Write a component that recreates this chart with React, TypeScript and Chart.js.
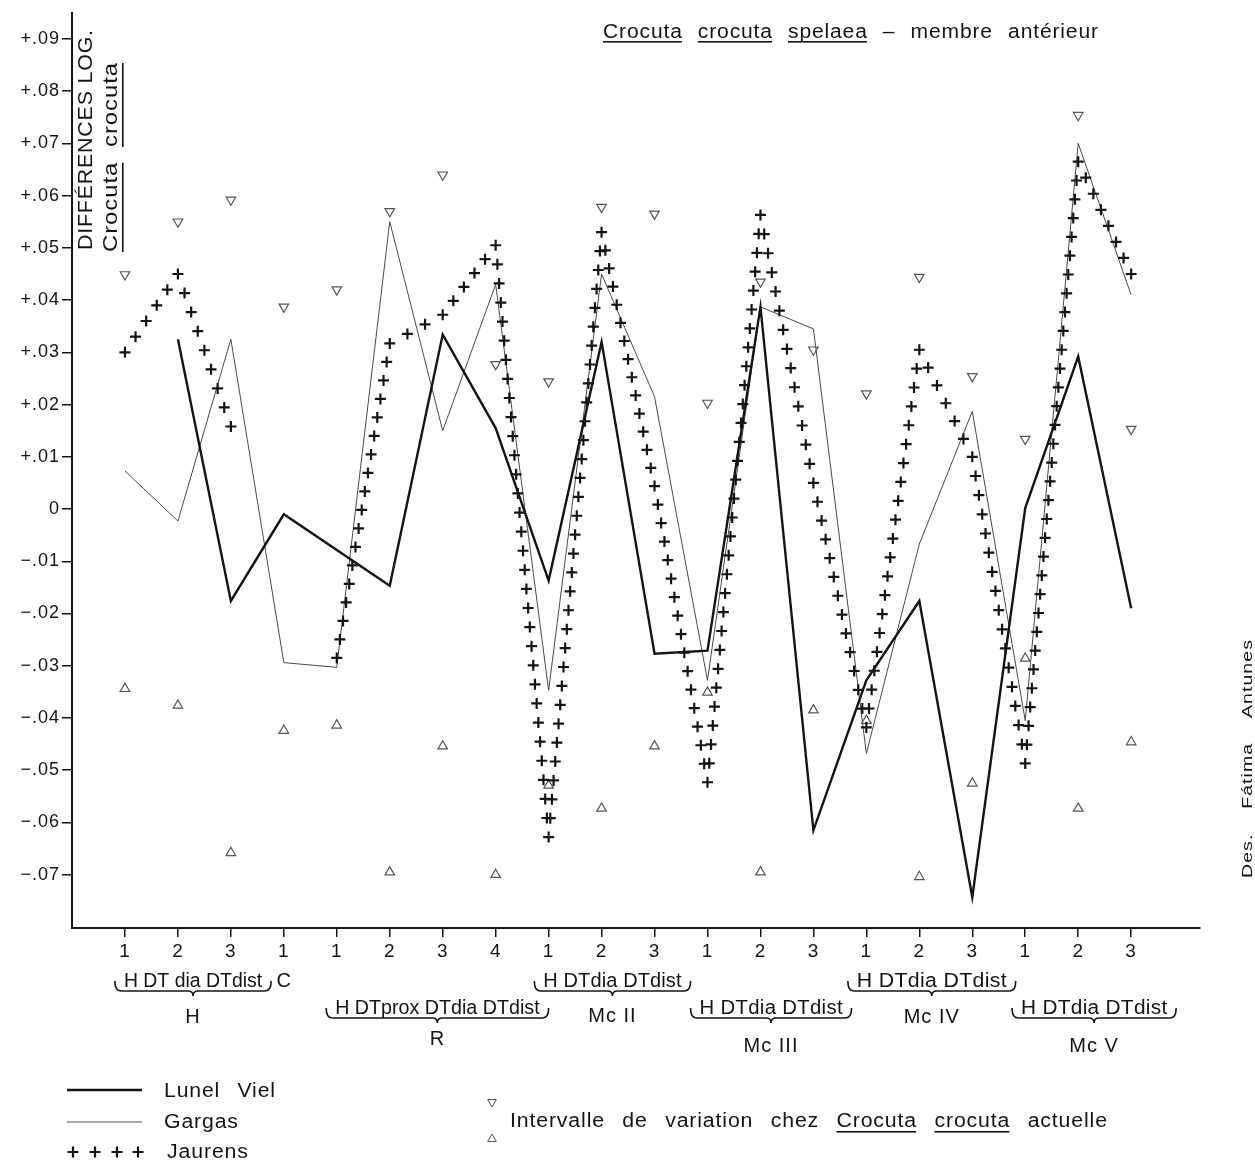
import React, { useEffect, useRef } from 'react';
import { Chart, registerables } from 'chart.js';

Chart.register(...registerables);

// ---------------- data ----------------
const categoryLabels = ['1', '2', '3', '1', '1', '2', '3', '4', '1', '2', '3', '1', '2', '3', '1', '2', '3', '1', '2', '3'];
const yTickValues = [0.09, 0.08, 0.07, 0.06, 0.05, 0.04, 0.03, 0.02, 0.01, 0, -0.01, -0.02, -0.03, -0.04, -0.05, -0.06, -0.07];
const yTickLabels = ['+.09', '+.08', '+.07', '+.06', '+.05', '+.04', '+.03', '+.02', '+.01', '0', '−.01', '−.02', '−.03', '−.04', '−.05', '−.06', '−.07'];

const lunelViel = [null, 0.0325, -0.0176, -0.001, null, -0.0147, 0.0334, 0.0155, -0.0137, 0.032, -0.0277, -0.0271, 0.0387, -0.0615, -0.0328, -0.0176, -0.0743, 0.0002, 0.0292, -0.019];
const gargas = [0.0073, -0.0023, 0.0325, -0.0294, -0.0303, 0.055, 0.015, 0.043, -0.0347, 0.045, 0.0215, -0.0328, 0.0387, 0.0345, -0.0468, -0.0067, 0.0187, -0.0405, 0.07, 0.041];
const jaurens = [0.03, 0.045, 0.0158, null, -0.0285, 0.0317, 0.0372, 0.0505, -0.0628, 0.053, 0.0044, -0.0523, 0.0563, 0.005, -0.0418, 0.0305, 0.01, -0.0487, 0.0665, 0.045];
const actuelleMax = [0.0449, 0.055, 0.0592, 0.0387, 0.042, 0.057, 0.064, 0.0277, 0.0244, 0.0578, 0.0565, 0.0203, 0.0435, 0.0305, 0.0221, 0.0444, 0.0254, 0.0134, 0.0754, 0.0153];
const actuelleMin = [-0.0344, -0.0376, -0.0658, -0.0424, -0.0414, -0.0695, -0.0454, -0.07, -0.0529, -0.0573, -0.0454, -0.0351, -0.0695, -0.0385, -0.0405, -0.0704, -0.0525, -0.0286, -0.0573, -0.0446];

const seriesNames = ['Lunel Viel', 'Gargas', 'Jaurens'];
const groupTexts = ['H DT dia DTdist', 'H DTprox DTdia DTdist', 'H DTdia DTdist', 'H DTdia DTdist', 'H DTdia DTdist', 'H DTdia DTdist'];
const groupNames = ['H', 'R', 'Mc II', 'Mc III', 'Mc IV', 'Mc V'];
const singleLabel = 'C';
const titleText = 'Crocuta crocuta spelaea – membre antérieur';
const titleUnderlined = ['Crocuta', 'crocuta', 'spelaea'];
const yTitleLine1 = 'DIFFÉRENCES LOG.';
const yTitleLine2 = 'Crocuta crocuta';
const rangeText = 'Intervalle de variation chez Crocuta crocuta actuelle';
const rangeUnderlined = ['Crocuta', 'crocuta'];
const creditText = 'Des. Fátima Antunes';

// ---------------- layout ----------------
const W = 1255;
const H = 1165;
const PLOT_BOTTOM = 928;
const FONT = '"Liberation Sans", Arial, sans-serif';
const NARROW = '"Liberation Sans Narrow", "Liberation Sans", Arial, sans-serif';
const INK = '#141414';
const groupLayout = [
  { from: -0.19, to: 2.76, row: 0, nameY: 1023 },
  { from: 3.8, to: 8.0, row: 1, nameY: 1045 },
  { from: 7.73, to: 10.68, row: 0, nameY: 1022 },
  { from: 10.68, to: 13.72, row: 1, nameY: 1052 },
  { from: 13.65, to: 16.82, row: 0, nameY: 1023 },
  { from: 16.75, to: 19.85, row: 1, nameY: 1052 },
];
const rowTextBaseline = [987, 1014];
const rowBraceY = [991, 1018];

type FitOpts = { underline?: string[]; ulOffset?: number; wordSpacing?: number; maxLs?: number; color?: string };

function fitText(ctx: CanvasRenderingContext2D, text: string, x: number, y: number, width: number, size: number, family: string, opts: FitOpts = {}) {
  const c = ctx as any;
  ctx.save();
  ctx.font = `${size}px ${family}`;
  ctx.textAlign = 'left';
  ctx.textBaseline = 'alphabetic';
  ctx.fillStyle = opts.color || INK;
  c.letterSpacing = '0px';
  c.wordSpacing = `${opts.wordSpacing || 0}px`;
  const base = ctx.measureText(text).width;
  const n = text.length;
  let ls = n > 1 ? (width - base) / (n - 1) : 0;
  ls = Math.max(0, Math.min(opts.maxLs ?? 0.8, ls));
  c.letterSpacing = `${ls}px`;
  const measured = ctx.measureText(text).width - ls;
  const sx = width / measured;
  ctx.translate(x, y);
  ctx.scale(sx, 1);
  ctx.fillText(text, 0, 0);
  if (opts.underline) {
    for (const w of opts.underline) {
      const idx = text.indexOf(w);
      if (idx < 0) continue;
      const a = idx === 0 ? 0 : ctx.measureText(text.slice(0, idx)).width;
      const b = ctx.measureText(text.slice(0, idx + w.length)).width - ls;
      ctx.fillRect(a, opts.ulOffset ?? 4, b - a, 1.6);
    }
  }
  ctx.restore();
}

function drawCross(ctx: CanvasRenderingContext2D, x: number, y: number, arm: number) {
  ctx.beginPath();
  ctx.moveTo(x - arm, y);
  ctx.lineTo(x + arm, y);
  ctx.moveTo(x, y - arm);
  ctx.lineTo(x, y + arm);
  ctx.stroke();
}

function drawBrace(ctx: CanvasRenderingContext2D, x1: number, x2: number, y: number) {
  const xm = (x1 + x2) / 2;
  ctx.beginPath();
  ctx.moveTo(x1, y - 10);
  ctx.quadraticCurveTo(x1, y, x1 + 6, y);
  ctx.lineTo(xm - 5, y);
  ctx.quadraticCurveTo(xm, y, xm, y + 5);
  ctx.quadraticCurveTo(xm, y, xm + 5, y);
  ctx.lineTo(x2 - 6, y);
  ctx.quadraticCurveTo(x2, y, x2, y - 10);
  ctx.stroke();
}

function drawTriangle(ctx: CanvasRenderingContext2D, x: number, y: number, r: number, down: boolean) {
  const s = down ? -1 : 1;
  ctx.beginPath();
  ctx.moveTo(x, y - s * r);
  ctx.lineTo(x + r * 0.866, y + s * r * 0.5);
  ctx.lineTo(x - r * 0.866, y + s * r * 0.5);
  ctx.closePath();
  ctx.stroke();
}

const annotPlugin = {
  id: 'annot',
  beforeDraw(chart: any) {
    const ctx = chart.ctx as CanvasRenderingContext2D;
    ctx.save();
    ctx.fillStyle = '#ffffff';
    ctx.fillRect(0, 0, chart.width, chart.height);
    ctx.restore();
    (ctx as any).letterSpacing = '1px';
  },
  afterDatasetsDraw(chart: any) {
    const ctx = chart.ctx as CanvasRenderingContext2D;
    const pts = chart.getDatasetMeta(2).data;
    ctx.save();
    ctx.strokeStyle = INK;
    ctx.lineWidth = 2.2;
    const spacing = 19;
    for (let i = 0; i < pts.length; i++) {
      const p = pts[i];
      if (p.skip) continue;
      const q = pts[i + 1];
      if (!q || q.skip) {
        drawCross(ctx, p.x, p.y, 5.5);
        continue;
      }
      const dx = q.x - p.x;
      const dy = q.y - p.y;
      const n = Math.max(1, Math.round(Math.hypot(dx, dy) / spacing));
      for (let k = 0; k < n; k++) drawCross(ctx, p.x + (dx * k) / n, p.y + (dy * k) / n, 5.5);
    }
    ctx.restore();
  },
  afterDraw(chart: any) {
    const ctx = chart.ctx as CanvasRenderingContext2D;
    const xs = chart.scales.x;
    const px = (v: number) => xs.getPixelForValue(v);

    // title
    fitText(ctx, titleText, 603, 38, 495, 20, FONT, { underline: titleUnderlined, ulOffset: 3, wordSpacing: 8 });

    // rotated y-axis title
    ctx.save();
    ctx.translate(92, 250);
    ctx.rotate(-Math.PI / 2);
    fitText(ctx, yTitleLine1, 0, 0, 220, 21, FONT);
    ctx.restore();
    ctx.save();
    ctx.translate(117, 252);
    ctx.rotate(-Math.PI / 2);
    fitText(ctx, yTitleLine2, 0, 0, 189, 20, FONT, { underline: ['Crocuta', 'crocuta'], ulOffset: 5, wordSpacing: 6 });
    ctx.restore();

    // group labels and braces
    ctx.save();
    ctx.strokeStyle = INK;
    ctx.lineWidth = 1.6;
    groupLayout.forEach((g, i) => {
      const x1 = px(g.from);
      const x2 = px(g.to);
      const tw = x2 - x1 - 18;
      fitText(ctx, groupTexts[i], x1 + 9, rowTextBaseline[g.row], tw, 20, NARROW, { maxLs: 0.3 });
      drawBrace(ctx, x1, x2, rowBraceY[g.row]);
      ctx.save();
      ctx.font = `20px ${NARROW}`;
      ctx.fillStyle = INK;
      ctx.textAlign = 'center';
      (ctx as any).letterSpacing = '1px';
      ctx.fillText(groupNames[i], (x1 + x2) / 2, g.nameY);
      ctx.restore();
    });
    ctx.save();
    ctx.font = `20px ${NARROW}`;
    ctx.fillStyle = INK;
    ctx.textAlign = 'center';
    (ctx as any).letterSpacing = '0px';
    ctx.fillText(singleLabel, px(3), rowTextBaseline[0]);
    ctx.restore();
    ctx.restore();

    // legend: series
    ctx.save();
    ctx.strokeStyle = INK;
    ctx.lineWidth = 2.4;
    ctx.beginPath();
    ctx.moveTo(67, 1090);
    ctx.lineTo(142, 1090);
    ctx.stroke();
    ctx.strokeStyle = '#555';
    ctx.lineWidth = 1;
    ctx.beginPath();
    ctx.moveTo(67, 1122);
    ctx.lineTo(142, 1122);
    ctx.stroke();
    ctx.strokeStyle = INK;
    ctx.lineWidth = 2.2;
    [73, 95, 117, 138].forEach((x) => drawCross(ctx, x, 1152, 5.5));
    ctx.restore();
    fitText(ctx, seriesNames[0], 164, 1097, 111, 20, FONT, { wordSpacing: 10 });
    fitText(ctx, seriesNames[1], 164, 1128, 74, 20, FONT);
    fitText(ctx, seriesNames[2], 167, 1158, 81, 20, FONT);

    // legend: range
    ctx.save();
    ctx.strokeStyle = '#555';
    ctx.lineWidth = 1;
    drawTriangle(ctx, 492, 1102, 5, true);
    drawTriangle(ctx, 492, 1139, 5, false);
    ctx.restore();
    fitText(ctx, rangeText, 510, 1127, 597, 20, FONT, { underline: rangeUnderlined, ulOffset: 4, wordSpacing: 10 });

    // credit
    ctx.save();
    ctx.translate(1252, 878);
    ctx.rotate(-Math.PI / 2);
    fitText(ctx, creditText, 0, 0, 238, 15, FONT, { wordSpacing: 14 });
    ctx.restore();
  },
};

export default function App() {
  const ref = useRef<HTMLCanvasElement | null>(null);

  useEffect(() => {
    if (!ref.current) return;
    const toXY = (arr: (number | null)[]) => arr.map((v, i) => ({ x: i, y: v }));
    const chart = new Chart(ref.current, {
      type: 'line',
      data: {
        datasets: [
          {
            label: seriesNames[0],
            data: toXY(lunelViel) as any,
            borderColor: INK,
            borderWidth: 2.4,
            pointRadius: 0,
            spanGaps: true,
            tension: 0,
            fill: false,
          },
          {
            label: seriesNames[1],
            data: toXY(gargas) as any,
            borderColor: '#4a4a4a',
            borderWidth: 1,
            pointRadius: 0,
            spanGaps: false,
            tension: 0,
            fill: false,
          },
          {
            label: seriesNames[2],
            data: toXY(jaurens) as any,
            showLine: false,
            borderColor: 'transparent',
            pointRadius: 0,
          },
          {
            label: 'max',
            data: toXY(actuelleMax) as any,
            showLine: false,
            pointStyle: 'triangle',
            rotation: 180,
            pointRadius: 5.5,
            borderColor: '#555',
            backgroundColor: '#fff',
            borderWidth: 1.2,
          },
          {
            label: 'min',
            data: toXY(actuelleMin) as any,
            showLine: false,
            pointStyle: 'triangle',
            rotation: 0,
            pointRadius: 5.5,
            borderColor: '#555',
            backgroundColor: '#fff',
            borderWidth: 1.2,
          },
        ],
      },
      options: {
        responsive: false,
        animation: false,
        devicePixelRatio: 1,
        layout: { padding: { top: 10, right: 55, left: 0, bottom: 0 } },
        plugins: { legend: { display: false }, tooltip: { enabled: false } },
        events: [],
        scales: {
          x: {
            type: 'linear',
            min: -1,
            max: 20.3,
            afterBuildTicks: (s: any) => {
              s.ticks = categoryLabels.map((_, i) => ({ value: i }));
            },
            afterFit: (s: any) => {
              s.height = H - PLOT_BOTTOM;
            },
            ticks: {
              autoSkip: false,
              maxRotation: 0,
              padding: 3,
              color: INK,
              font: { family: NARROW, size: 19 },
              callback: (_v: any, i: number) => categoryLabels[i],
            },
            grid: { drawOnChartArea: false, drawTicks: true, tickLength: 9, color: INK, lineWidth: 1.5 },
            border: { display: true, color: INK, width: 2 },
          },
          y: {
            type: 'linear',
            min: -0.0802,
            max: 0.095,
            afterBuildTicks: (s: any) => {
              s.ticks = yTickValues.map((v) => ({ value: v }));
            },
            afterFit: (s: any) => {
              s.width = 72;
            },
            ticks: {
              autoSkip: false,
              padding: 2,
              color: INK,
              font: { family: FONT, size: 18 },
              callback: (_v: any, i: number) => yTickLabels[i],
            },
            grid: { drawOnChartArea: false, drawTicks: true, tickLength: 10, color: INK, lineWidth: 1.5 },
            border: { display: true, color: INK, width: 2 },
          },
        },
      },
      plugins: [annotPlugin],
    });
    return () => chart.destroy();
  }, []);

  return (
    <div style={{ position: 'absolute', left: 0, top: 0, width: W, height: H, background: '#fff' }}>
      <canvas ref={ref} width={W} height={H} style={{ display: 'block', width: W, height: H }} />
    </div>
  );
}
